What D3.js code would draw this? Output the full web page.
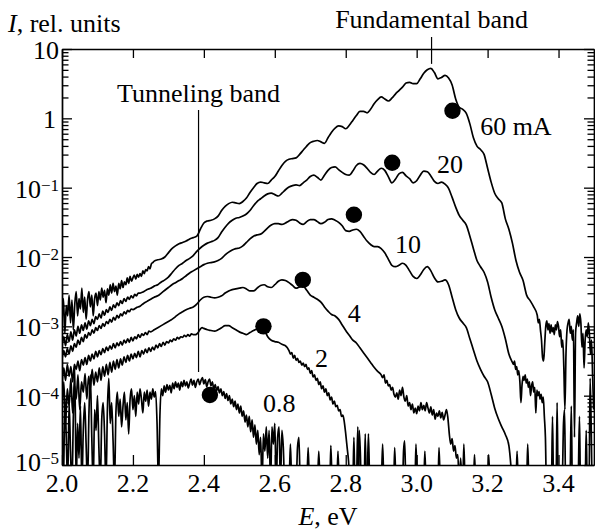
<!DOCTYPE html>
<html><head><meta charset="utf-8">
<script src="https://cdn.jsdelivr.net/npm/d3@7"></script>
</head><body style="margin:0;background:#fff">
<svg id="c" width="595" height="531" style="display:block"></svg>
<script>
// ---------------- DATA (E in eV, values are log10 of I in rel. units) ----------------
const currents = ["60 mA","20","10","4","2","0.8"];
// black dots (E, log10 I)
const dotE   = [3.101, 2.931, 2.823, 2.679, 2.568, 2.417];
const dotLog = [0.11, -0.64, -1.39, -2.33, -3.00, -3.99];
// curve labels (E, log10 I)
const labelE   = [3.179, 3.057, 2.939, 2.806, 2.713, 2.567];
const labelLog = [-0.24, -0.79, -1.94, -2.94, -3.59, -4.24];
// axis ticks
const xTicks = [2.0, 2.2, 2.4, 2.6, 2.8, 3.0, 3.2, 3.4];
const yExp   = [1, 0, -1, -2, -3, -4, -5];
// band markers
const tunnelE = 2.385, fundE = 3.042;

// 60 mA
const log60a = [-2.95,-2.60,-3.10,-2.70,-2.85,-2.55,-2.95,-2.62,-3.05,-2.68,
-2.50,-2.85,-2.60,-2.75,-2.45,-2.80,-2.58,-2.90,-2.62,-2.50,
-2.72,-2.55,-2.85,-2.60,-2.52,-2.70,-2.50,-2.62,-2.45,-2.58,
-2.48,-2.66,-2.46,-2.55,-2.40,-2.52,-2.38,-2.50,-2.42,-2.55,
-2.38,-2.46,-2.34,-2.44,-2.36,-2.40,-2.30,-2.38,-2.28,-2.35,
-2.30,-2.26,-2.32,-2.25,-2.29,-2.24,-2.28,-2.20,-2.24,-2.18,
-2.20,-2.14,-2.17,-2.10,-2.08,-2.06]; // 2.000..2.260 step 0.004
const log60b = [-2.04,-2.03,-2.00,-1.94,-1.88,-1.84,-1.81,-1.79,-1.77,-1.74,
-1.72,-1.70,-1.60,-1.51,-1.48,-1.47,-1.45,-1.41,-1.33,-1.27,
-1.23,-1.21,-1.22,-1.23,-1.20,-1.15,-1.07,-1.00,-0.94,-0.92,
-0.93,-0.94,-0.89,-0.84,-0.76,-0.68,-0.62,-0.59,-0.58,-0.57,
-0.52,-0.46,-0.40,-0.35,-0.33,-0.32,-0.34,-0.36,-0.28,-0.20,
-0.14,-0.11,-0.12,-0.15,-0.10,-0.03,0.04,0.10,0.10,0.08,
0.13,0.21,0.27,0.31,0.28,0.25,0.29,0.35,0.40,0.45,
0.51,0.52,0.50,0.50,0.57,0.65,0.70,0.72,0.66,0.57,
0.59,0.62,0.58,0.48,0.28,0.16,0.13,0.07,-0.08,-0.28,
-0.40,-0.45,-0.52,-0.72,-0.92,-1.08,-1.16,-1.22,-1.45,-1.60,
-1.80,-2.05,-2.22,-2.34,-2.55,-2.63,-2.72]; // 2.27..3.33 step 0.01
const log60c = [-2.84,-2.95,-2.90,-3.05,-3.20,-3.45,-3.50,-3.25,-3.00,-2.92,
-3.05,-2.96,-3.10,-2.98,-3.08,-3.02,-3.12,-2.98,-3.05,-2.93,
-3.00,-3.15,-3.05,-3.30,-3.20,-3.60,-4.20,-3.40,-3.05,-2.95,
-2.90,-3.10,-3.00,-3.20,-3.05,-4.60,-3.10,-2.95,-2.85,-3.00,
-2.82,-2.95,-3.30,-3.10,-3.60,-3.20,-3.05,-3.15,-2.95,-3.10,
-3.40,-3.20,-3.70,-4.20]; // 3.340..3.499 step 0.003

// 20 mA
const log20a = [-3.30,-3.15,-3.28,-3.12,-3.22,-3.08,-3.20,-3.05,-3.14,-3.00,
-3.10,-2.98,-3.06,-2.95,-3.04,-2.92,-2.99,-2.90,-2.96,-2.86,
-2.90,-2.82,-2.88,-2.78,-2.84,-2.76,-2.80,-2.72,-2.77,-2.69,
-2.73,-2.66,-2.70,-2.63,-2.67,-2.60,-2.64,-2.58,-2.61,-2.56,
-2.59,-2.54,-2.56,-2.52]; // 2.000..2.215 step 0.005
const log20b = [-2.52,-2.50,-2.47,-2.45,-2.42,-2.40,-2.36,-2.33,-2.29,-2.23,
-2.17,-2.12,-2.09,-2.05,-2.02,-1.98,-1.92,-1.87,-1.83,-1.80,
-1.78,-1.76,-1.72,-1.64,-1.57,-1.51,-1.47,-1.44,-1.43,-1.41,
-1.38,-1.33,-1.26,-1.20,-1.16,-1.12,-1.09,-1.08,-1.10,-1.12,
-1.08,-1.03,-0.99,-0.97,-0.96,-0.97,-0.93,-0.89,-0.84,-0.82,
-0.85,-0.89,-0.82,-0.75,-0.71,-0.70,-0.74,-0.78,-0.81,-0.82,
-0.76,-0.68,-0.65,-0.67,-0.72,-0.78,-0.81,-0.76,-0.72,-0.75,
-0.84,-0.93,-0.88,-0.80,-0.78,-0.83,-0.87,-0.93,-0.90,-0.82,
-0.76,-0.77,-0.83,-0.91,-0.94,-0.92,-0.95,-1.01,-1.14,-1.28,
-1.40,-1.47,-1.54,-1.70,-1.88,-2.05,-2.14,-2.22,-2.36,-2.58,
-2.76,-2.88,-3.00,-3.18,-3.40,-3.52]; // 2.22..3.27 step 0.01
const log20c = [-3.55,-3.50,-3.62,-3.58,-3.70,-3.64,-3.80,-4.10,-3.85,-3.72,
-3.78,-3.70,-3.82,-3.76,-3.88,-3.80,-4.00,-3.86,-3.80,-3.95,
-3.88,-4.25,-3.92,-4.00,-3.94,-4.05,-3.98,-4.10,-4.02,-4.30,
-4.60]; // 3.273..3.363 step 0.003
const tail20 = [[3.366,-5.3],[3.380,-5.3],[3.383,-4.3],[3.386,-5.3],[3.393,-5.3],[3.396,-4.10],[3.399,-5.3],
[3.410,-5.3],[3.414,-4.4],[3.417,-4.2],[3.420,-5.3],[3.432,-5.3],[3.436,-4.15],[3.439,-5.3],[3.455,-5.3],
[3.459,-4.3],[3.462,-5.3],[3.475,-5.3],[3.478,-4.5],[3.481,-5.3],[3.486,-5.3],[3.489,-3.75],[3.492,-4.4],
[3.495,-5.3],[3.500,-5.3]];

// 10 mA
const log10a = [-3.48,-3.35,-3.44,-3.32,-3.40,-3.28,-3.36,-3.25,-3.30,-3.20,
-3.26,-3.16,-3.22,-3.12,-3.17,-3.09,-3.13,-3.05,-3.10,-3.02,
-3.06,-2.99,-3.03,-2.96,-3.00,-2.93,-2.96,-2.90,-2.94,-2.87,
-2.91,-2.84,-2.88,-2.82,-2.85,-2.79,-2.82,-2.77,-2.79,-2.75]; // 2.000..2.195 step 0.005
const log10b = [-2.76,-2.73,-2.71,-2.67,-2.64,-2.61,-2.58,-2.56,-2.52,-2.48,
-2.44,-2.40,-2.37,-2.34,-2.31,-2.27,-2.23,-2.20,-2.17,-2.14,
-2.11,-2.09,-2.08,-2.07,-2.05,-2.02,-1.97,-1.93,-1.90,-1.88,
-1.87,-1.84,-1.79,-1.74,-1.70,-1.68,-1.67,-1.63,-1.58,-1.54,
-1.52,-1.52,-1.53,-1.51,-1.48,-1.46,-1.47,-1.51,-1.53,-1.49,
-1.46,-1.46,-1.49,-1.52,-1.50,-1.46,-1.45,-1.47,-1.50,-1.55,
-1.62,-1.63,-1.61,-1.60,-1.63,-1.70,-1.77,-1.82,-1.85,-1.85,
-1.88,-1.94,-2.03,-2.12,-2.14,-2.12,-2.09,-2.12,-2.20,-2.28,
-2.31,-2.26,-2.18,-2.14,-2.20,-2.30,-2.36,-2.35,-2.33,-2.40,
-2.58,-2.76,-2.88,-2.95,-3.02,-3.18,-3.34,-3.50,-3.62,-3.72,
-3.80,-3.98,-4.18,-4.33,-4.45,-4.56,-4.72,-5.3]; // 2.20..3.27 step 0.01

// 4 mA
const log4a = [-3.85,-3.60,-3.78,-3.55,-3.72,-3.58,-3.80,-3.55,-3.62,-3.50,
-3.64,-3.48,-3.56,-3.45,-3.55,-3.42,-3.50,-3.40,-3.47,-3.36,
-3.44,-3.35,-3.41,-3.32,-3.38,-3.30,-3.35,-3.28,-3.33,-3.25,
-3.31,-3.24,-3.28,-3.22,-3.27,-3.20,-3.24,-3.18,-3.23,-3.16,
-3.21,-3.15,-3.18,-3.12,-3.16,-3.11,-3.13,-3.09,-3.12,-3.07]; // 2.000..2.245 step 0.005
const log4b = [-3.08,-3.05,-3.02,-2.99,-2.96,
-2.93,-2.90,-2.86,-2.82,-2.79,-2.76,-2.74,-2.72,-2.68,-2.62,
-2.58,-2.57,-2.58,-2.59,-2.58,-2.56,-2.52,-2.49,-2.47,-2.46,
-2.45,-2.44,-2.46,-2.49,-2.49,-2.45,-2.41,-2.40,-2.43,-2.44,
-2.40,-2.35,-2.33,-2.34,-2.37,-2.41,-2.45,-2.43,-2.42,-2.48,
-2.55,-2.58,-2.61,-2.65,-2.72,-2.78,-2.83,-2.85,-2.90,-2.98,
-3.06,-3.13,-3.20,-3.24,-3.31,-3.38,-3.45,-3.52,-3.59,-3.65,
-3.70]; // 2.25..2.90 step 0.01
const log4c = [-3.74,-3.70,-3.82,-3.78,-3.86,-3.84,-3.92,-3.88,-3.98,-4.02,
-3.96,-4.05,-3.92,-4.00,-3.88,-4.02,-4.08,-4.00,-4.15,-4.10,
-4.20,-4.12,-4.25,-4.18,-4.26,-4.15,-4.22,-4.10,-4.20,-4.14,
-4.22,-4.10,-4.18,-4.25,-4.16,-4.28,-4.20,-4.34,-4.25,-4.30,
-4.22,-4.32,-4.24,-4.35,-4.28,-4.20,-4.32,-4.55,-4.70,-4.62,
-4.80,-4.72,-4.90,-4.85,-5.3,-4.9,-5.3]; // 2.904..3.128 step 0.004

// 2 mA
const log2a = [-4.30,-3.80,-4.40,-3.90,-4.15,-3.75,-4.25,-3.85,-4.05,-3.70,
-4.20,-3.80,-3.95,-3.68,-4.05,-3.72,-3.90,-3.62,-3.85,-3.66,
-3.80,-3.60,-3.78,-3.58,-3.72,-3.55,-3.70,-3.52,-3.66,-3.50,
-3.62,-3.48,-3.60,-3.47,-3.56,-3.44,-3.52,-3.42,-3.50,-3.40,
-3.47,-3.39,-3.45,-3.36,-3.44,-3.35,-3.40,-3.33,-3.38,-3.31,
-3.36,-3.30,-3.34,-3.27,-3.31,-3.25,-3.29,-3.23,-3.27,-3.22,
-3.24,-3.20,-3.22,-3.18,-3.20,-3.16,-3.18,-3.15,-3.16,-3.13,
-3.15,-3.12,-3.14,-3.11,-3.12,-3.12,-3.11,-3.08,-3.04,-3.02,
-3.03]; // 2.000..2.400 step 0.005
const log2b = [-3.05,-3.06,-3.07,-3.05,-3.02,-2.99,-2.99,-3.02,-3.05,-3.08,
-3.10,-3.12,-3.09,-3.06,-3.04,-3.02,-3.05,-3.15,-3.20,-3.22,
-3.23,-3.26,-3.28,-3.35]; // 2.41..2.64 step 0.01
const log2c = [-3.40,-3.38,-3.46,-3.42,-3.49,-3.46,-3.52,-3.50,-3.56,-3.53,
-3.58,-3.55,-3.62,-3.60,-3.68,-3.64,-3.73,-3.70,-3.78,-3.75,
-3.84,-3.80,-3.90,-3.86,-3.95,-3.90,-4.00,-3.96,-4.06,-4.02,
-4.12,-4.08,-4.16,-4.14,-4.22,-4.20,-4.30,-4.28,-4.38,-4.55,
-4.75,-4.95,-5.3]; // 2.644..2.812 step 0.004
const tail2 = [[2.820,-5.3],[2.823,-4.6],[2.826,-5.3],[2.835,-5.3],[2.838,-4.5],[2.841,-4.8],[2.844,-5.3],
[2.852,-5.3],[2.855,-4.55],[2.858,-5.3]];

// 0.8 mA
const log08a = [-4.20,-5.3,-4.05,-4.60,-5.3,-4.10,-4.80,-5.3,-4.30,-3.60,
-5.3,-4.40,-4.90,-4.15,-5.3,-4.50,-4.10,-4.70,-5.3,-4.25,
-3.70,-4.60,-5.3,-4.20,-4.50,-4.00,-4.75,-5.3,-4.35,-4.10,
-4.55,-5.3,-4.20,-3.75,-4.40,-4.10,-4.65,-5.3,-4.25,-3.95,
-4.30,-4.05,-4.45,-4.15,-3.95,-4.35,-4.10,-4.55,-4.05,-3.90,
-4.20,-4.00,-4.30,-3.95,-4.12,-3.90,-4.05,-4.25,-3.95,-4.08,
-3.92,-4.15,-3.95,-4.05,-3.90,-4.02,-3.94]; // 2.000..2.264 step 0.004
const log08b = [-4.40,-5.3,-4.30,-3.90,-4.00,-3.86,-3.95,-3.84,-3.92,-3.85,
-3.96,-3.82,-3.90,-3.80,-3.88,-3.82,-3.92,-3.80,-3.87,-3.78,
-3.86,-3.80,-3.89,-3.82,-3.76,-3.85,-3.78,-3.88,-3.80,-3.76,
-3.84,-3.78,-3.74,-3.83,-3.77,-3.87,-3.80,-3.76,-3.86,-3.80,
-3.91,-3.84,-3.93,-3.87,-3.96,-3.90,-4.00,-3.94,-4.04,-3.97,
-4.07,-4.00,-4.12,-4.05,-4.16,-4.08,-4.20,-4.12,-4.25,-4.15,
-4.30,-4.22,-4.38,-4.28,-4.45,-4.30,-4.52,-4.35,-4.60,-4.42,
-4.70,-4.50,-4.85,-4.60,-5.3,-4.55,-4.80,-4.45,-4.90,-4.50,
-5.3,-4.45,-4.70,-4.40,-5.3,-4.60,-4.45,-5.3,-4.50,-4.75,
-5.3]; // 2.268..2.628 step 0.004
const tail08 = [[2.640,-5.3],[2.644,-4.70],[2.648,-5.3],[2.660,-5.3],[2.664,-4.75],[2.668,-4.60],[2.672,-5.3],
[2.690,-5.3],[2.694,-4.75],[2.698,-5.3],[2.720,-5.3],[2.724,-4.80],[2.728,-5.3],[2.755,-5.3],[2.758,-4.72],
[2.762,-5.3],[2.775,-5.3],[2.778,-4.80],[2.782,-5.3],[2.830,-5.3],[2.834,-4.45],[2.838,-5.3],[2.860,-5.3],
[2.864,-4.55],[2.868,-5.3],[2.900,-5.3],[2.904,-4.70],[2.908,-5.3],[2.935,-5.3],[2.938,-4.75],[2.942,-5.3],
[2.960,-5.3],[2.963,-4.80],[2.966,-4.65],[2.970,-5.3],[2.995,-5.3],[2.998,-4.70],[3.002,-5.3],[3.020,-5.3],
[3.023,-4.80],[3.027,-5.3],[3.060,-5.3],[3.063,-4.75],[3.067,-5.3],[3.130,-5.3],[3.133,-4.70],[3.137,-5.3],
[3.160,-5.3],[3.163,-4.85],[3.167,-5.3],[3.200,-5.3],[3.203,-4.85],[3.207,-5.3],[3.280,-5.3],[3.283,-4.80],
[3.287,-5.3],[3.310,-5.3],[3.313,-4.70],[3.317,-5.3],[3.500,-5.3]];

// ---------------- CHART ----------------
const P = {l:62, r:594, t:49, b:465};
const FS = 26;
const SERIF = "'Liberation Serif'";
const svg = d3.select("#c");
const x = d3.scaleLinear().domain([2.0, 3.5]).range([P.l, P.r]);
const y = d3.scaleLog().domain([1e-5, 10]).range([P.b, P.t]);
const pw = v => Math.pow(10, v);

function seg(e0, step, vals){ return vals.map((v,i)=>[+(e0+i*step).toFixed(4), v]); }
const series = [
  seg(2.000,0.004,log60a).concat(seg(2.27,0.01,log60b), seg(3.340,0.003,log60c)),
  seg(2.000,0.005,log20a).concat(seg(2.22,0.01,log20b), seg(3.273,0.003,log20c), tail20),
  seg(2.000,0.005,log10a).concat(seg(2.20,0.01,log10b)),
  seg(2.000,0.005,log4a).concat(seg(2.25,0.01,log4b), seg(2.904,0.004,log4c)),
  seg(2.000,0.005,log2a).concat(seg(2.41,0.01,log2b), seg(2.644,0.004,log2c), tail2),
  seg(2.000,0.004,log08a).concat(seg(2.268,0.004,log08b), tail08)
];

svg.append("defs").append("clipPath").attr("id","clip")
  .append("rect").attr("x",P.l).attr("y",P.t).attr("width",P.r-P.l).attr("height",P.b-P.t);

const line = d3.line().x(d=>x(d[0])).y(d=>y(pw(d[1]))).curve(d3.curveMonotoneX);
const gC = svg.append("g").attr("clip-path","url(#clip)");
gC.selectAll("path.curve").data(series).join("path").attr("class","curve")
  .attr("d", line).attr("fill","none").attr("stroke","#000")
  .attr("stroke-width",1.7).attr("stroke-linejoin","round");

// dots
gC.selectAll("circle").data(dotE).join("circle")
  .attr("cx",(d,i)=>x(d)).attr("cy",(d,i)=>y(pw(dotLog[i]))).attr("r",8.2).attr("fill","#000");

// axes
const majors = yExp.map(pw);
const minors = [];
for (let k=-5;k<1;k++) for (let m=2;m<=9;m++) minors.push(m*Math.pow(10,k));
function styleAxis(g){
  g.selectAll("path.domain").attr("stroke","#000").attr("stroke-width",1.4);
  g.selectAll(".tick line").attr("stroke","#000").attr("stroke-width",1.3);
}
svg.append("g").attr("transform",`translate(${P.l},0)`)
  .call(d3.axisLeft(y).tickValues(majors).tickSizeInner(-10).tickSizeOuter(0).tickFormat("")).call(styleAxis);
svg.append("g").attr("transform",`translate(${P.l},0)`)
  .call(d3.axisLeft(y).tickValues(minors).tickSizeInner(-6.5).tickSizeOuter(0).tickFormat("")).call(styleAxis);
svg.append("g").attr("transform",`translate(${P.r},0)`)
  .call(d3.axisRight(y).tickValues(majors).tickSizeInner(-10).tickSizeOuter(0).tickFormat("")).call(styleAxis);
svg.append("g").attr("transform",`translate(${P.r},0)`)
  .call(d3.axisRight(y).tickValues(minors).tickSizeInner(-6.5).tickSizeOuter(0).tickFormat("")).call(styleAxis);
svg.append("g").attr("transform",`translate(0,${P.t})`)
  .call(d3.axisTop(x).tickValues(xTicks).tickSizeInner(-9).tickSizeOuter(0).tickFormat("")).call(styleAxis);
svg.append("g").attr("transform",`translate(0,${P.b})`)
  .call(d3.axisBottom(x).tickValues(xTicks).tickSizeInner(-10).tickSizeOuter(0).tickFormat("")).call(styleAxis);

// x tick labels
svg.selectAll("text.xl").data(xTicks).join("text").attr("class","xl")
  .style("font-family",SERIF).attr("font-size",FS).attr("text-anchor","middle")
  .attr("x",d=>x(d)).attr("y",P.b+27).text(d3.format(".1f"));

// y tick labels
yExp.forEach(k=>{
  const t = svg.append("text").style("font-family",SERIF).attr("font-size",FS)
    .attr("text-anchor","end").attr("x",k===0 ? P.l-6 : P.l-3)
    .attr("y",y(pw(k)) + (k===-5 ? 6 : 10));
  if (k===1) t.text("10");
  else if (k===0) t.text("1");
  else { t.append("tspan").text("10");
         t.append("tspan").attr("font-size",17).attr("dy",-7).text("\u2212"+(-k)); }
});

// curve labels
svg.selectAll("text.cl").data(currents).join("text").attr("class","cl")
  .style("font-family",SERIF).attr("font-size",FS)
  .attr("x",(d,i)=>x(labelE[i])).attr("y",(d,i)=>y(pw(labelLog[i]))).text(d=>d);

// band markers
svg.append("line").attr("x1",x(tunnelE)).attr("x2",x(tunnelE))
  .attr("y1",y(1.32)).attr("y2",y(2.2e-4)).attr("stroke","#000").attr("stroke-width",1.2);
svg.append("text").style("font-family",SERIF).attr("x",x(tunnelE)).attr("y",102).attr("text-anchor","middle")
  .attr("font-size",FS).text("Tunneling band");
svg.append("line").attr("x1",x(fundE)).attr("x2",x(fundE))
  .attr("y1",37).attr("y2",y(6.1)).attr("stroke","#000").attr("stroke-width",1.2);
svg.append("text").style("font-family",SERIF).attr("x",x(fundE)).attr("y",28).attr("text-anchor","middle")
  .attr("font-size",FS).text("Fundamental band");

// axis titles
const ty = svg.append("text").style("font-family",SERIF).attr("x",8).attr("y",32).attr("font-size",FS);
ty.append("tspan").style("font-style","italic").text("I");
ty.append("tspan").text(", rel. units");
const tx = svg.append("text").style("font-family",SERIF).attr("x",(P.l+P.r)/2).attr("y",525)
  .attr("font-size",FS).attr("text-anchor","middle");
tx.append("tspan").style("font-style","italic").text("E");
tx.append("tspan").text(", eV");
</script>
</body></html>
